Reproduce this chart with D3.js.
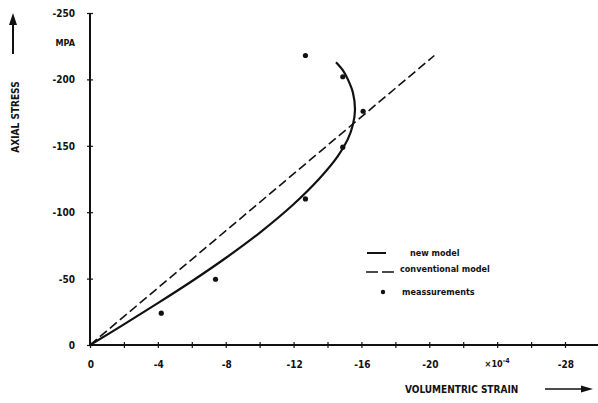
<!DOCTYPE html>
<html><head><meta charset="utf-8">
<script src="https://cdn.jsdelivr.net/npm/d3@7"></script>
<style>
body{margin:0;background:#fff;}
text{font-family:"DejaVu Sans Condensed","DejaVu Sans",sans-serif;font-weight:bold;fill:#111;}
</style></head>
<body><svg id="c" width="598" height="403"></svg>
<script>
// ---- data ----
const xTicks = [0,-2,-4,-6,-8,-10,-12,-14,-16,-18,-20,-22,-24,-26,-28];
const xTickLabels = ["0","-4","-8","-12","-16","-20","-28"];
const xLabelValues = [0,-4,-8,-12,-16,-20,-28];
const yTicks = [0,-50,-100,-150,-200,-250];
const yTickLabels = ["0","-50","-100","-150","-200","-250"];
// new model (strain x1e-4, stress MPa)
const newStrain = [0,-2,-4,-6,-8,-10,-12,-13.5,-14.6,-15.2,-15.5,-15.62,-15.5,-15.2,-14.9,-14.5];
const newStress = [0,-15.5,-31.5,-48,-65.5,-84.5,-106,-125,-142,-155,-166,-177,-190,-200,-207,-213];
// conventional model
const convStrain = [0,-20.3];
const convStress = [0,-218];
// measurements
const measStrain = [-4.2,-7.4,-12.7,-12.7,-14.9,-16.1,-14.9];
const measStress = [-24,-49.5,-110,-218,-202,-176,-149];

const svg = d3.select("#c");
const x = d3.scaleLinear().domain([0,-28]).range([90,565]);
const y = d3.scaleLinear().domain([0,-250]).range([345,13]);

// axes lines
svg.append("line").attr("x1",x(0)).attr("x2",x(-30)).attr("y1",y(0)).attr("y2",y(0))
  .attr("stroke","#111").attr("stroke-width",2);
svg.append("line").attr("x1",x(0)).attr("x2",x(0)).attr("y1",y(0)).attr("y2",y(-250))
  .attr("stroke","#111").attr("stroke-width",2);

// x axis ticks
const xa = svg.append("g").attr("transform",`translate(0,${y(0)})`)
  .call(d3.axisBottom(x).tickValues(xTicks).tickSize(3).tickFormat(""));
xa.select(".domain").remove();
xa.selectAll(".tick line").attr("y1",-3).attr("y2",3).attr("stroke","#111").attr("stroke-width",1.2);
svg.selectAll(".xl").data(xLabelValues).enter().append("text")
  .attr("x",d=>x(d)+1).attr("y",y(0)+23).attr("text-anchor","middle")
  .attr("font-size",10).text((d,i)=>xTickLabels[i]);
const ul = svg.append("text").attr("x",x(-24)).attr("y",y(0)+22).attr("text-anchor","middle").attr("font-size",9);
ul.append("tspan").text("×10");
ul.append("tspan").attr("dy",-4).attr("font-size",7).text("-4");

// y axis ticks
const ya = svg.append("g").attr("transform",`translate(${x(0)},0)`)
  .call(d3.axisLeft(y).tickValues(yTicks).tickSize(3).tickFormat(""));
ya.select(".domain").remove();
ya.selectAll(".tick line").attr("x1",-3).attr("x2",3).attr("stroke","#111").attr("stroke-width",1.2);
svg.selectAll(".yl").data(yTicks).enter().append("text")
  .attr("x",x(0)-15).attr("y",d=>y(d)+4).attr("text-anchor","end")
  .attr("font-size",10).text((d,i)=>yTickLabels[i]);
svg.append("text").attr("x",x(0)-15).attr("y",46).attr("text-anchor","end").attr("font-size",9).text("MPA");

// titles
svg.append("text").attr("transform","translate(19,117) rotate(-90)").attr("text-anchor","middle")
  .attr("font-size",10).text("AXIAL STRESS");
svg.append("line").attr("x1",13).attr("x2",13).attr("y1",54).attr("y2",22).attr("stroke","#111").attr("stroke-width",2);
svg.append("path").attr("d","M13,13 L9,25 L17,25 Z").attr("fill","#111");

svg.append("text").attr("x",405).attr("y",393).attr("font-size",10).text("VOLUMENTRIC STRAIN");
svg.append("line").attr("x1",545).attr("x2",583).attr("y1",389).attr("y2",389).attr("stroke","#111").attr("stroke-width",1.6);
svg.append("path").attr("d","M593,389 L581,385.5 L581,392.5 Z").attr("fill","#111");

// conventional model
const line = d3.line().x(d=>x(d[0])).y(d=>y(d[1]));
svg.append("path").datum(convStrain.map((s,i)=>[s,convStress[i]])).attr("d",line)
  .attr("fill","none").attr("stroke","#111").attr("stroke-width",1.6).attr("stroke-dasharray","9,4");
// new model
svg.append("path").datum(newStrain.map((s,i)=>[s,newStress[i]]))
  .attr("d",line.curve(d3.curveCatmullRom))
  .attr("fill","none").attr("stroke","#111").attr("stroke-width",2.2);
// measurements
svg.selectAll(".m").data(measStrain.map((s,i)=>[s,measStress[i]])).enter().append("circle")
  .attr("cx",d=>x(d[0])).attr("cy",d=>y(d[1])).attr("r",2.6).attr("fill","#111");

// legend
svg.append("line").attr("x1",367).attr("x2",386).attr("y1",253).attr("y2",253).attr("stroke","#111").attr("stroke-width",2);
svg.append("text").attr("x",410).attr("y",256).attr("font-size",9).text("new model");
svg.append("line").attr("x1",366).attr("x2",395).attr("y1",272).attr("y2",272).attr("stroke","#111").attr("stroke-width",1.6).attr("stroke-dasharray","12,4");
svg.append("text").attr("x",400).attr("y",272).attr("font-size",9).text("conventional model");
svg.append("circle").attr("cx",383).attr("cy",292).attr("r",2.2).attr("fill","#111");
svg.append("text").attr("x",402).attr("y",295).attr("font-size",9).text("meassurements");
</script></body></html>
